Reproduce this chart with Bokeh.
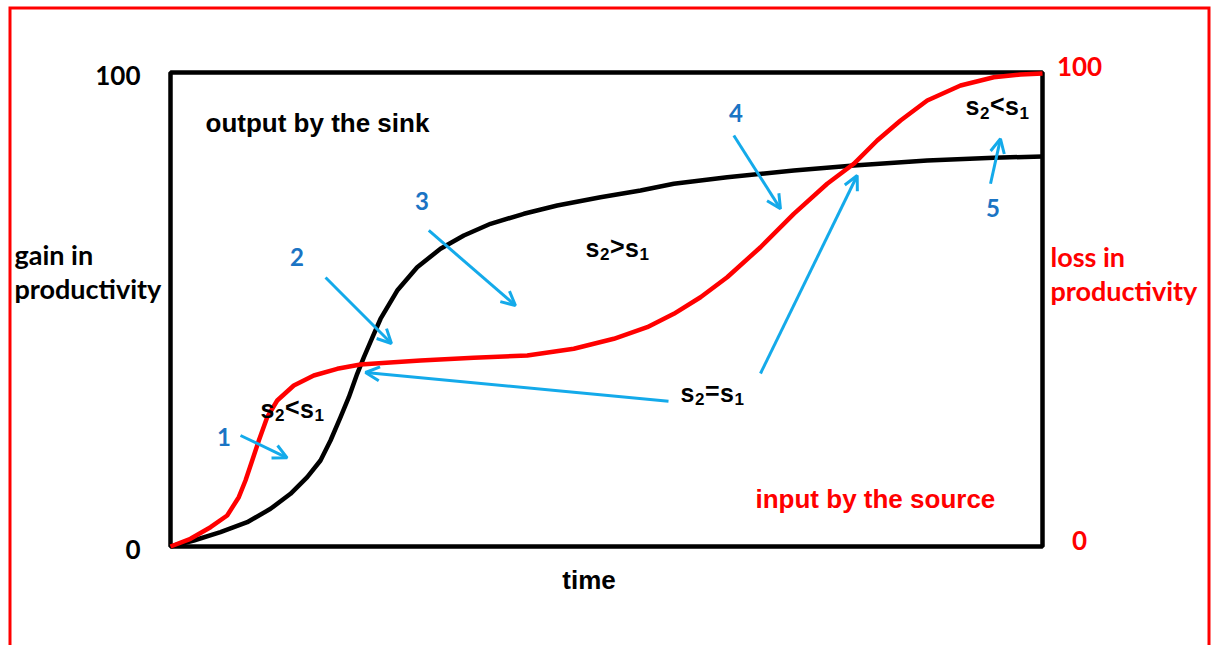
from bokeh.plotting import figure
from bokeh.models import Range1d, Arrow, OpenHead, ColumnDataSource, Grid
from bokeh.core.properties import value
from bokeh.embed import file_html
from bokeh.resources import INLINE

# ---------------- data ----------------
time_domain = [0, 100]
y_ticks = [0, 100]
left_tick_labels = ["0", "100"]
right_tick_labels = ["0", "100"]

# output by the sink (black)
time_sink = [0, 2.67, 5.73, 8.80, 11.47, 13.76, 15.68, 17.20, 18.35, 19.50, 20.45,
             21.41, 22.17, 23.13, 24.08, 26.0, 28.29, 30.96, 33.64, 36.70, 40.52,
             44.35, 49.31, 53.90, 57.72, 63.84, 71.48, 78.36, 86.78, 94.41, 100]
sink_output = [0, 1.27, 3.02, 5.13, 7.95, 11.12, 14.62, 18.14, 22.36, 27.28, 31.50,
               36.43, 39.9, 44.0, 48.0, 54.0, 58.92, 62.81, 65.61, 68.08, 70.19,
               71.94, 73.69, 75.11, 76.52, 77.91, 79.32, 80.38, 81.43, 82.0, 82.3]

# input by the source (red)
time_source = [0, 2.29, 4.59, 6.50, 7.83, 8.60, 9.37, 10.13, 11.09, 12.24, 14.14,
               16.43, 19.12, 21.79, 25.61, 28.67, 34.78, 40.91, 46.25, 50.84, 54.67,
               57.72, 60.78, 63.84, 67.66, 71.48, 75.31, 78.36, 81.04, 83.72, 86.78,
               90.60, 94.41, 97.48, 100]
source_input = [0, 1.62, 4.07, 6.54, 10.40, 13.92, 18.14, 22.36, 27.28, 30.80, 33.97,
                36.08, 37.49, 38.40, 38.88, 39.24, 39.81, 40.30, 41.71, 43.82, 46.27,
                49.09, 52.59, 56.81, 63.14, 70.19, 76.52, 80.74, 85.65, 89.87, 94.09,
                97.26, 99.01, 99.58, 99.79]

# annotation arrows (start -> end)
arrow_x0 = [8.03, 17.78, 29.62, 57.11, 67.66, 64.60, 94.04]
arrow_y0 = [23.42, 56.75, 66.67, 30.65, 36.50, 86.71, 76.52]
arrow_x1 = [13.38, 25.34, 39.56, 22.36, 78.75, 69.95, 95.18]
arrow_y1 = [18.71, 42.83, 50.84, 36.71, 78.27, 71.24, 86.01]

# numbered phases
phase_labels = ["1", "2", "3", "4", "5"]
phase_x = [6.14, 14.51, 28.84, 64.85, 94.33]
phase_y = [23.1, 61.18, 72.99, 91.46, 71.41]

# relations between s2 and s1
rel_ops = ["<", ">", "=", "<"]
rel_x = [10.32, 47.59, 58.49, 91.17]
rel_y = [29.06, 62.97, 32.41, 92.86]

# ---------------- layout (pixels) ----------------
W, H = 1211, 645
BOX_L, BOX_R, BOX_T, BOX_B = 170, 1042, 72, 546      # plotting box in page pixels
FR_L, FR_R, FR_T, FR_B = 8, 1210, 6, 645              # red page frame
sx = (BOX_R - BOX_L) / (time_domain[1] - time_domain[0])
sy = (BOX_B - BOX_T) / (y_ticks[1] - y_ticks[0])
x_start = time_domain[0] + (FR_L - BOX_L) / sx
x_end = time_domain[1] + (FR_R - BOX_R) / sx
y_end = y_ticks[1] + (BOX_T - FR_T) / sy
y_start = y_ticks[0] - (FR_B - BOX_B) / sy


def dx(px):
    return time_domain[0] + (px - BOX_L) / sx


def dy(py):
    return y_ticks[0] + (BOX_B - py) / sy


BLACK = "black"
RED = "#ff0000"
BLUE = "#1a74c4"
LIGHTBLUE = "#14aaea"
CAL = value("Lato")
ARI = value("Liberation Sans")

p = figure(width=W, height=H, x_range=Range1d(x_start, x_end),
           y_range=Range1d(y_start, y_end),
           output_backend="svg", toolbar_location=None,
           x_axis_location=None, y_axis_location=None,
           min_border_left=FR_L, min_border_right=W - FR_R,
           min_border_top=FR_T, min_border_bottom=H - FR_B)
for r in list(p.center):
    if isinstance(r, Grid):
        r.visible = False
p.background_fill_color = "white"
p.border_fill_color = "white"
p.outline_line_color = None

# red page frame (on the frame edges, half of the width is clipped away)
p.line([x_start, x_start, x_end, x_end], [y_start, y_end, y_end, y_start],
       line_color=RED, line_width=6)

# plotting box
p.quad(left=[time_domain[0]], right=[time_domain[1]], bottom=[y_ticks[0]], top=[y_ticks[1]],
       fill_color=None, line_color=BLACK, line_width=4.5)

# curves
p.line(time_sink, sink_output, line_color=BLACK, line_width=4.5, line_join="round")
p.line(time_source, source_input, line_color=RED, line_width=4.5, line_join="round")

# tick labels
p.text(x=[time_domain[0]] * 2, y=y_ticks, text=left_tick_labels, text_font=CAL,
       text_font_style="bold", text_font_size="26px", text_color=BLACK,
       text_align="right", text_baseline="middle", x_offset=-30, y_offset=3)
p.text(x=[time_domain[1]] * 2, y=y_ticks, text=right_tick_labels, text_font=CAL,
       text_font_style="bold", text_font_size="26px", text_color=RED,
       text_align="center", text_baseline="middle", x_offset=37, y_offset=-6)

# axis titles
p.text(x=[dx(588.5)], y=[dy(579)], text=["time"], text_font=ARI, text_font_style="bold",
       text_font_size="26px", text_color=BLACK, text_align="center",
       text_baseline="middle")
p.text(x=[dx(14), dx(14)], y=[dy(254), dy(288)], text=["gain in", "productivity"],
       text_font=CAL, text_font_style="bold", text_font_size="27px", text_color=BLACK,
       text_align="left", text_baseline="middle")
p.text(x=[dx(1050), dx(1050)], y=[dy(256), dy(290)], text=["loss in", "productivity"],
       text_font=CAL, text_font_style="bold", text_font_size="27px", text_color=RED,
       text_align="left", text_baseline="middle")

# curve names
p.text(x=[dx(205)], y=[dy(122)], text=["output by the sink"], text_font=ARI,
       text_font_style="bold", text_font_size="26px", text_color=BLACK,
       text_align="left", text_baseline="middle")
p.text(x=[dx(755)], y=[dy(498)], text=["input by the source"], text_font=ARI,
       text_font_style="bold", text_font_size="26px", text_color=RED,
       text_align="left", text_baseline="middle")

# arrows
arrows = ColumnDataSource(dict(x0=arrow_x0, y0=arrow_y0, x1=arrow_x1, y1=arrow_y1))
p.add_layout(Arrow(x_start="x0", y_start="y0", x_end="x1", y_end="y1", source=arrows,
                   line_color=LIGHTBLUE, line_width=3,
                   end=OpenHead(size=14, line_color=LIGHTBLUE, line_width=3)))

# phase numbers
p.text(x=phase_x, y=phase_y, text=phase_labels, text_font=CAL, text_font_style="bold",
       text_font_size="24px", text_color=BLUE, text_align="center",
       text_baseline="middle")

# relation labels  s2 <op> s1 (subscripts drawn smaller and lower)
n = len(rel_ops)
rel_style = dict(text_font=ARI, text_font_style="bold", text_color=BLACK,
                 text_align="left", text_baseline="middle")
p.text(x=rel_x, y=rel_y, text=["s"] * n, text_font_size="25px", x_offset=0, **rel_style)
p.text(x=rel_x, y=rel_y, text=["2"] * n, text_font_size="17px", x_offset=14.5,
       y_offset=6.3, **rel_style)
p.text(x=rel_x, y=rel_y, text=rel_ops, text_font_size="25px", x_offset=24.5,
       y_offset=-2, **rel_style)
p.text(x=rel_x, y=rel_y, text=["s"] * n, text_font_size="25px", x_offset=39.5,
       **rel_style)
p.text(x=rel_x, y=rel_y, text=["1"] * n, text_font_size="17px", x_offset=54,
       y_offset=6.3, **rel_style)

open("out.html", "w").write(file_html(p, INLINE))
